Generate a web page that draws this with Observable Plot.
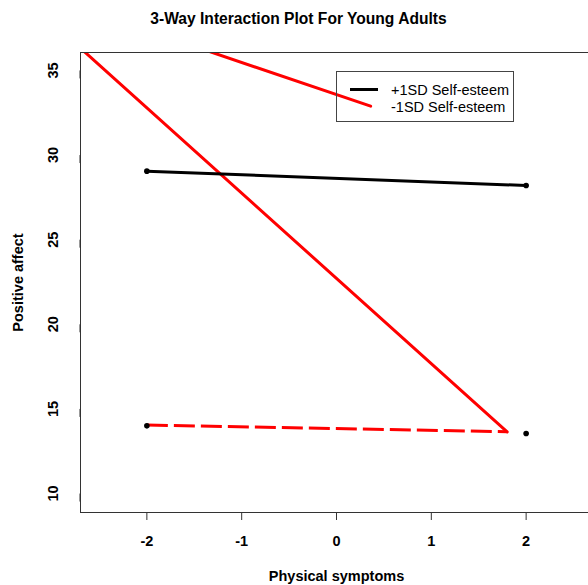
<!DOCTYPE html>
<html>
<head>
<meta charset="utf-8">
<script src="https://cdn.jsdelivr.net/npm/d3@7"></script>
<script src="https://cdn.jsdelivr.net/npm/@observablehq/plot@0.6"></script>
<style>
  html, body { margin: 0; padding: 0; background: #fff; overflow: hidden; }
  #wrap { position: relative; width: 588px; height: 585px; overflow: hidden; font-family: "Liberation Sans", Arial, sans-serif; }
  #wrap svg { max-width: none !important; }
  .legend { position: absolute; left: 336px; top: 71px; width: 178px; height: 51px; border: 1px solid #444; box-sizing: border-box; }
  .legend .key { position: absolute; left: 13px; top: 16px; width: 28px; height: 3px; }
  .legend .lab { position: absolute; left: 54px; font-size: 14.5px; line-height: 16px; color: #000; white-space: nowrap; }
</style>
</head>
<body>
<div id="wrap"></div>
<script>
// Chart text
const chartTitle = "3-Way Interaction Plot For Young Adults";
const xTitle = "Physical symptoms";
const yTitle = "Positive affect";

// Axis ticks
const xTicks = [-2, -1, 0, 1, 2];
const yTicks = [10, 15, 20, 25, 30, 35];

// Simple slopes at -2 and +2 on physical symptoms
const symptomLevels = [-2, 2];
const highEsteem = [29.05, 28.2];     // +1SD Self-esteem (black line and points)
const lowEsteemPoints = [14.0, 13.55]; // -1SD Self-esteem points

// Dashed -1SD segment
const dashedX = [-2, 1.8];
const dashedY = [14.05, 13.65];

// Steep red segment
const steepX = [-2.8, 1.8];
const steepY = [36.82, 13.64];

// Red segment reaching into the legend
const keyLineX = [-2, 0.36];
const keyLineY = [37.37, 32.89];

// Legend
const legendLabels = ["+1SD Self-esteem", "-1SD Self-esteem"];
const legendColors = ["black", "red"];

const toPts = (xs, ys) => xs.map((x, i) => ({x, y: ys[i]}));

const font = "'Liberation Sans', Arial, sans-serif";

const chart = Plot.plot({
  width: 592,
  height: 585,
  marginTop: 52,
  marginBottom: 73,
  marginLeft: 80,
  marginRight: 0,
  style: {fontFamily: font, background: "white", color: "black", maxWidth: "none"},
  x: {domain: [-2.7, 2.7]},
  y: {domain: [8.88, 36.06]},
  marks: [
    Plot.lineY(toPts(steepX, steepY), {x: "x", y: "y", stroke: "red", strokeWidth: 3, clip: true}),
    Plot.lineY(toPts(keyLineX, keyLineY), {x: "x", y: "y", stroke: "red", strokeWidth: 3, clip: true}),
    Plot.lineY(toPts(dashedX, dashedY), {x: "x", y: "y", stroke: "red", strokeWidth: 3, strokeDasharray: "21,6", strokeLinecap: "butt"}),
    Plot.lineY(toPts(symptomLevels, highEsteem), {x: "x", y: "y", stroke: "black", strokeWidth: 3}),
    Plot.dot(toPts(symptomLevels, highEsteem), {x: "x", y: "y", r: 2.8, fill: "black", stroke: null}),
    Plot.dot(toPts(symptomLevels, lowEsteemPoints), {x: "x", y: "y", r: 2.8, fill: "black", stroke: null}),
    Plot.frame({stroke: "#333", strokeWidth: 1}),
    Plot.axisX({ticks: xTicks, tickSize: 8, tickPadding: 15, tickFormat: d => String(d),
      fontSize: 14.5, fontWeight: "bold", label: null, stroke: "#333"}),
    Plot.axisY({ticks: yTicks, tickSize: 8, tickPadding: 19, tickFormat: d => String(d),
      rotate: -90, textAnchor: "middle", fontSize: 14.5, fontWeight: "bold", label: null, stroke: "#333"}),
    Plot.text([chartTitle], {frameAnchor: "top", dy: -34, dx: -38, text: d => d,
      lineAnchor: "middle", textAnchor: "middle", fontSize: 15.6, fontWeight: "bold"}),
    Plot.text([xTitle], {frameAnchor: "bottom", dy: 64, text: d => d,
      lineAnchor: "middle", textAnchor: "middle", fontSize: 14.5, fontWeight: "bold"}),
    Plot.text([yTitle], {frameAnchor: "left", dx: -62, rotate: -90, text: d => d,
      lineAnchor: "middle", textAnchor: "middle", fontSize: 14.5, fontWeight: "bold"})
  ]
});

const wrap = document.getElementById("wrap");
wrap.appendChild(chart);

// Legend box
const legend = document.createElement("div");
legend.className = "legend";
const key = document.createElement("div");
key.className = "key";
key.style.background = legendColors[0];
legend.appendChild(key);
legendLabels.forEach((t, i) => {
  const lab = document.createElement("div");
  lab.className = "lab";
  lab.textContent = t;
  lab.style.top = (10 + i * 16.5) + "px";
  legend.appendChild(lab);
});
wrap.appendChild(legend);
</script>
</body>
</html>
